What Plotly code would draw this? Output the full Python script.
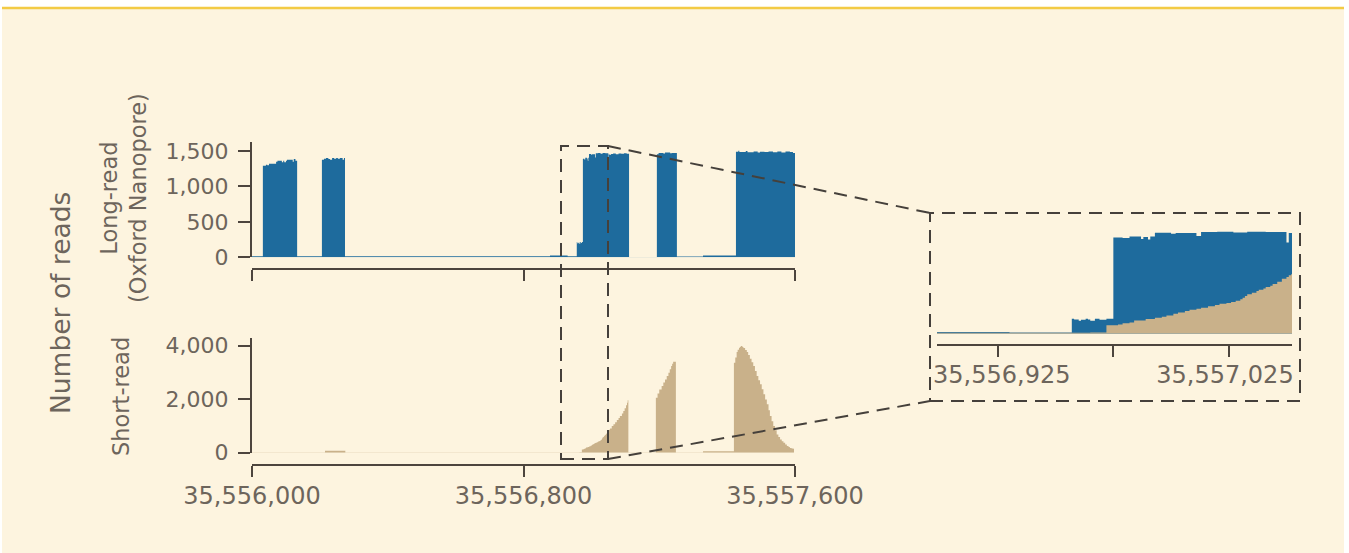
import plotly.graph_objects as go

# ---------------------------------------------------------------
# Read depth across the locus (bedGraph style: segment start offset
# from REGION_START and the depth held until the next start).
# ---------------------------------------------------------------
REGION_START = 35556000

LR_START = [0, 32, 41, 45, 50, 71, 75, 88, 92, 95, 100, 103, 120, 123, 128, 133,
            206, 212, 218, 225, 230, 236, 242, 248, 253, 259, 267, 271, 274,
            878, 930, 957, 958, 960, 961, 963, 964, 965, 967, 969, 972,
            975, 979, 982, 987, 988, 990, 991, 993, 1000, 1002, 1011, 1013,
            1020, 1027, 1033, 1041, 1050, 1051, 1053, 1058, 1064, 1072, 1080,
            1088, 1096, 1104, 1111,
            1193, 1198, 1212, 1217, 1232, 1237, 1252, 1329,
            1426, 1433, 1436, 1455, 1460, 1478, 1490, 1497, 1510, 1522, 1535,
            1548, 1560, 1572, 1585, 1594]
LR_DEPTH = [14, 1290, 1305, 1295, 1319, 1347, 1361, 1338, 1361, 1338, 1361, 1375, 1347, 1385, 1361, 14,
            1375, 1390, 1399, 1385, 1375, 1399, 1390, 1399, 1390, 1399, 1375, 1399, 14,
            24, 16, 216, 206, 187, 202, 216, 206, 187, 216, 202, 216,
            1387, 1378, 1402, 1363, 1392, 1358, 1402, 1454, 1440, 1450, 1406, 1464,
            1469, 1459, 1469, 1464, 1315, 1450, 1445, 1456, 1462, 1452, 1463,
            1458, 1466, 1457, 4,
            1451, 1470, 1461, 1475, 1465, 1470, 12, 25,
            1488, 1500, 1484, 1496, 1480, 1490, 1478, 1488, 1482, 1492, 1480,
            1489, 1478, 1490, 1484, 1470]
LR_END = 1601

SR_START = [0, 215, 275,
            965, 972, 977, 979, 982, 984, 989, 993, 996, 998, 1001, 1003, 1006,
            1008, 1011, 1013, 1016, 1019, 1021, 1024, 1026, 1028, 1030, 1031,
            1032, 1033, 1035, 1037, 1038, 1040, 1041, 1043, 1044, 1046, 1048,
            1050, 1051, 1052, 1055, 1060, 1065, 1070, 1075, 1080, 1084, 1090,
            1094, 1098, 1102, 1105, 1107, 1109,
            1190, 1195, 1200, 1207, 1212, 1217, 1222, 1227, 1231, 1235, 1238,
            1241, 1249, 1329,
            1420, 1424, 1428, 1431, 1435, 1438, 1441, 1445, 1448, 1453, 1458,
            1462, 1467, 1472, 1477, 1482, 1487, 1492, 1497, 1502, 1507, 1512,
            1517, 1522, 1526, 1531, 1536, 1541, 1546, 1551, 1556, 1561, 1566,
            1571, 1576, 1581, 1585, 1590, 1595]
SR_DEPTH = [12, 75, 12,
            19, 120, 134, 149, 163, 192, 211, 230, 245, 264, 288, 307, 327,
            346, 360, 375, 394, 413, 432, 442, 456, 475, 495, 519,
            543, 567, 591, 615, 634, 653, 672, 692, 716, 749, 793,
            817, 841, 855, 905, 996, 1060, 1140, 1221, 1300, 1371, 1470,
            1558, 1660, 1770, 1870, 1957, 4,
            2056, 2210, 2367, 2492, 2620, 2741, 2870, 2990, 3120, 3240, 3330,
            3402, 10, 50,
            3364, 3560, 3763, 3850, 3925, 3960, 3988, 3950, 3913, 3840, 3763,
            3650, 3514, 3380, 3240, 3050, 2866, 2710, 2555, 2370, 2181, 1990,
            1807, 1590, 1371, 1180, 997, 840, 685, 590, 498, 430, 374,
            310, 249, 210, 174, 160, 150]
SR_END = 1597

MAIN_TICKS = [35556000, 35556800, 35557600]
LR_TICKS = [0, 500, 1000, 1500]
SR_TICKS = [0, 2000, 4000]
ZOOM_TICKS = [35556925, 35556975, 35557025]
# end labels are nudged inward with a non-breaking space
ZOOM_TICK_TEXT = ["\u00a035,556,925", "", "35,557,025\u00a0"]
ZOOM_RANGE = [35556898.6, 35557052.4]

# ---------------------------------------------------------------
# Styling
# ---------------------------------------------------------------
W, H = 1349, 553
BLUE = "#1e6b9d"
TAN = "#c9b18a"
CREAM = "#fdf4df"
GOLD = "#f3cb45"
AXIS = "#4d453e"
TEXT = "#6d655c"
DASH = "#45403b"
FONT = "DejaVu Sans"


def fx(p):
    return p / W


def fy(p):
    return 1 - p / H


def steps(starts, depth, end):
    xs = [REGION_START + s for s in starts] + [REGION_START + end]
    ys = list(depth) + [depth[-1]]
    return xs, ys


lr_x, lr_y = steps(LR_START, LR_DEPTH, LR_END)
sr_x, sr_y = steps(SR_START, SR_DEPTH, SR_END)


def area(x, y, color, xa, ya):
    return go.Scatter(x=x, y=y, mode="lines", line=dict(width=0, shape="hv"),
                      fill="tozeroy", fillcolor=color, hoverinfo="skip",
                      showlegend=False, xaxis=xa, yaxis=ya)


fig = go.Figure()
fig.add_trace(area(lr_x, lr_y, BLUE, "x", "y"))
fig.add_trace(area(sr_x, sr_y, TAN, "x2", "y2"))
fig.add_trace(area(lr_x, lr_y, BLUE, "x3", "y3"))
fig.add_trace(area(sr_x, sr_y, TAN, "x3", "y3"))

axis_common = dict(showline=True, linecolor=AXIS, linewidth=2, ticks="outside",
                   tickcolor=AXIS, tickwidth=2, showgrid=False, zeroline=False,
                   fixedrange=True, automargin=False)
xdom = [fx(252), fx(795)]
xfull = [REGION_START, REGION_START + 1600]

fig.update_layout(
    template="none",
    width=W, height=H, margin=dict(l=0, r=0, t=0, b=0, pad=0), autosize=False,
    paper_bgcolor="white", plot_bgcolor="rgba(0,0,0,0)",
    font=dict(family=FONT, color=TEXT),
    xaxis=dict(axis_common, domain=xdom, range=xfull, anchor="free",
               position=fy(269), tickvals=MAIN_TICKS, ticklen=11,
               showticklabels=False),
    yaxis=dict(axis_common, domain=[fy(257.3), fy(142.3)], range=[0, 1620],
               anchor="x", tickvals=LR_TICKS, tickformat=",", ticklen=12,
               ticklabelstandoff=5, tickfont=dict(size=22, color=TEXT)),
    xaxis2=dict(axis_common, domain=xdom, range=xfull, anchor="free",
                position=fy(465), tickvals=MAIN_TICKS, tickformat=",",
                ticklen=11, ticklabelstandoff=-2,
                tickfont=dict(size=24, color=TEXT)),
    yaxis2=dict(axis_common, domain=[fy(452.7), fy(338.3)], range=[0, 4277],
                anchor="x2", tickvals=SR_TICKS, tickformat=",", ticklen=12,
                ticklabelstandoff=5, tickfont=dict(size=22, color=TEXT)),
    xaxis3=dict(axis_common, domain=[fx(937), fx(1292)], range=ZOOM_RANGE,
                anchor="free", position=fy(345), tickvals=ZOOM_TICKS,
                ticktext=ZOOM_TICK_TEXT, ticklen=11, ticklabelstandoff=-3,
                tickfont=dict(size=24, color=TEXT)),
    yaxis3=dict(domain=[fy(333.7), fy(229.6)], range=[0, 1500], anchor="x3",
                visible=False, fixedrange=True, automargin=False),
)

# Page panel: cream card with a gold rule along its top edge
shapes = [
    dict(type="rect", xref="paper", yref="paper", x0=fx(2), x1=fx(1344),
         y0=0, y1=fy(8), fillcolor=CREAM, line=dict(width=0), layer="below"),
    dict(type="line", xref="paper", yref="paper", x0=fx(2), x1=fx(1344),
         y0=fy(8), y1=fy(8), line=dict(color=GOLD, width=2.5), layer="below"),
]

# Zoom window, its enlargement frame and the connecting leaders
dash = dict(color=DASH, width=2, dash="13px,8px")
shapes += [
    dict(type="rect", xref="paper", yref="paper", x0=fx(561), x1=fx(608),
         y0=fy(459), y1=fy(146), line=dash),
    dict(type="rect", xref="paper", yref="paper", x0=fx(930), x1=fx(1300),
         y0=fy(401), y1=fy(213), line=dash),
    dict(type="line", xref="paper", yref="paper", x0=fx(608), y0=fy(146),
         x1=fx(930), y1=fy(213), line=dash),
    dict(type="line", xref="paper", yref="paper", x0=fx(608), y0=fy(459),
         x1=fx(930), y1=fy(401), line=dash),
]
fig.update_layout(shapes=shapes)

labels = [
    dict(text="Number of reads", x=fx(60), y=fy(303), size=26.5),
    dict(text="Long-read<br>(Oxford Nanopore)", x=fx(124), y=fy(198), size=22.5),
    dict(text="Short-read", x=fx(121), y=fy(397), size=22.5),
]
for lab in labels:
    fig.add_annotation(text=lab["text"], x=lab["x"], y=lab["y"], xref="paper",
                       yref="paper", xanchor="center", yanchor="middle",
                       textangle=-90, showarrow=False,
                       font=dict(family=FONT, size=lab["size"], color=TEXT))

fig.write_html("out.html", config={"displayModeBar": False})
